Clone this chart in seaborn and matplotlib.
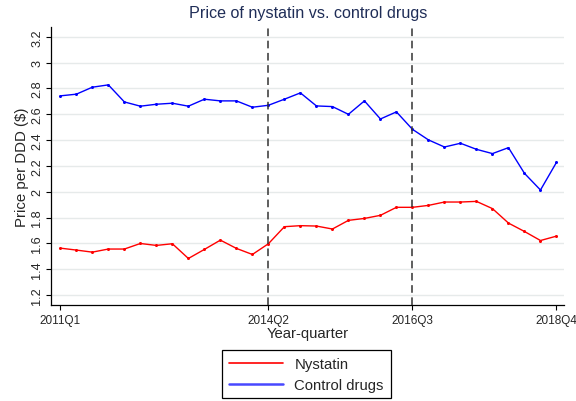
import pandas as pd
import matplotlib.pyplot as plt
import seaborn as sns

quarters = [f"{y}Q{q}" for y in range(2011, 2019) for q in range(1, 5)]

nystatin = [1.564, 1.549, 1.533, 1.557, 1.557, 1.600, 1.585, 1.598,
            1.484, 1.554, 1.626, 1.562, 1.515, 1.598, 1.730, 1.738,
            1.735, 1.712, 1.779, 1.794, 1.818, 1.880, 1.880, 1.895,
            1.921, 1.921, 1.926, 1.870, 1.758, 1.693, 1.623, 1.657]
control = [2.743, 2.756, 2.810, 2.828, 2.696, 2.663, 2.678, 2.686,
           2.663, 2.717, 2.704, 2.704, 2.655, 2.670, 2.717, 2.766,
           2.665, 2.660, 2.600, 2.704, 2.564, 2.619, 2.484, 2.402,
           2.347, 2.376, 2.329, 2.296, 2.342, 2.143, 2.014, 2.228]

events = ["2014Q2", "2016Q3"]
shown_ticks = ["2011Q1", "2014Q2", "2016Q3", "2018Q4"]
y_ticks = [1.2, 1.4, 1.6, 1.8, 2, 2.2, 2.4, 2.6, 2.8, 3, 3.2]

df = pd.DataFrame({
    "t": list(range(len(quarters))) * 2,
    "price": nystatin + control,
    "group": ["Nystatin"] * len(quarters) + ["Control drugs"] * len(quarters),
})

sns.set_style("white")
plt.rcParams["font.family"] = ["Liberation Sans", "DejaVu Sans"]

fig = plt.figure(figsize=(5.76, 4.02), dpi=100)
ax = fig.add_axes([0.0892, 0.2376, 0.8908, 0.6924])

sns.lineplot(data=df, x="t", y="price", hue="group",
             palette={"Nystatin": "#ff0000", "Control drugs": "#0000ff"},
             marker="o", markersize=2.2, markeredgewidth=0, linewidth=1.0,
             ax=ax, legend=False)

# vertical markers for the two policy quarters
for e in events:
    ax.axvline(quarters.index(e), color="#333333", linestyle=(0, (5, 3)),
               linewidth=1.1, zorder=3)

ax.set_ylim(1.12, 3.275)
ax.set_xlim(-0.56, 31.5)
ax.set_yticks(y_ticks)
ax.set_yticklabels([f"{v:g}" for v in y_ticks], rotation=90, va="center",
                   fontsize=9.2)
ax.set_xticks([quarters.index(q) for q in shown_ticks])
ax.set_xticklabels(shown_ticks, fontsize=8.5)
ax.yaxis.grid(True, color="#e6eaea", linewidth=1.0)
ax.set_axisbelow(True)
ax.tick_params(direction="out", length=3.8, width=0.8, color="black",
               left=True, bottom=True, pad=2)
for s in ["top", "right"]:
    ax.spines[s].set_visible(False)
for s in ["left", "bottom"]:
    ax.spines[s].set_color("black")
    ax.spines[s].set_linewidth(0.9)

ax.set_xlabel("Year-quarter", fontsize=10.7, labelpad=0)
ax.set_ylabel("Price per DDD ($)", fontsize=10.8, labelpad=2)
ax.set_title("Price of nystatin vs. control drugs", fontsize=11.6,
             color="#1f2d57", pad=7)

handles = [plt.Line2D([], [], color="#ff0000", linewidth=1.2),
           plt.Line2D([], [], color="#4848ff", linewidth=1.8)]
leg = fig.legend(handles, ["Nystatin", "Control drugs"], loc="center",
                 bbox_to_anchor=(0.532, 0.066), fancybox=False,
                 edgecolor="black", framealpha=1, fontsize=10.7,
                 handlelength=3.6, borderpad=0.45, labelspacing=0.45,
                 handletextpad=0.8)
leg.get_frame().set_linewidth(0.9)

fig.savefig("out.png", dpi=100)
